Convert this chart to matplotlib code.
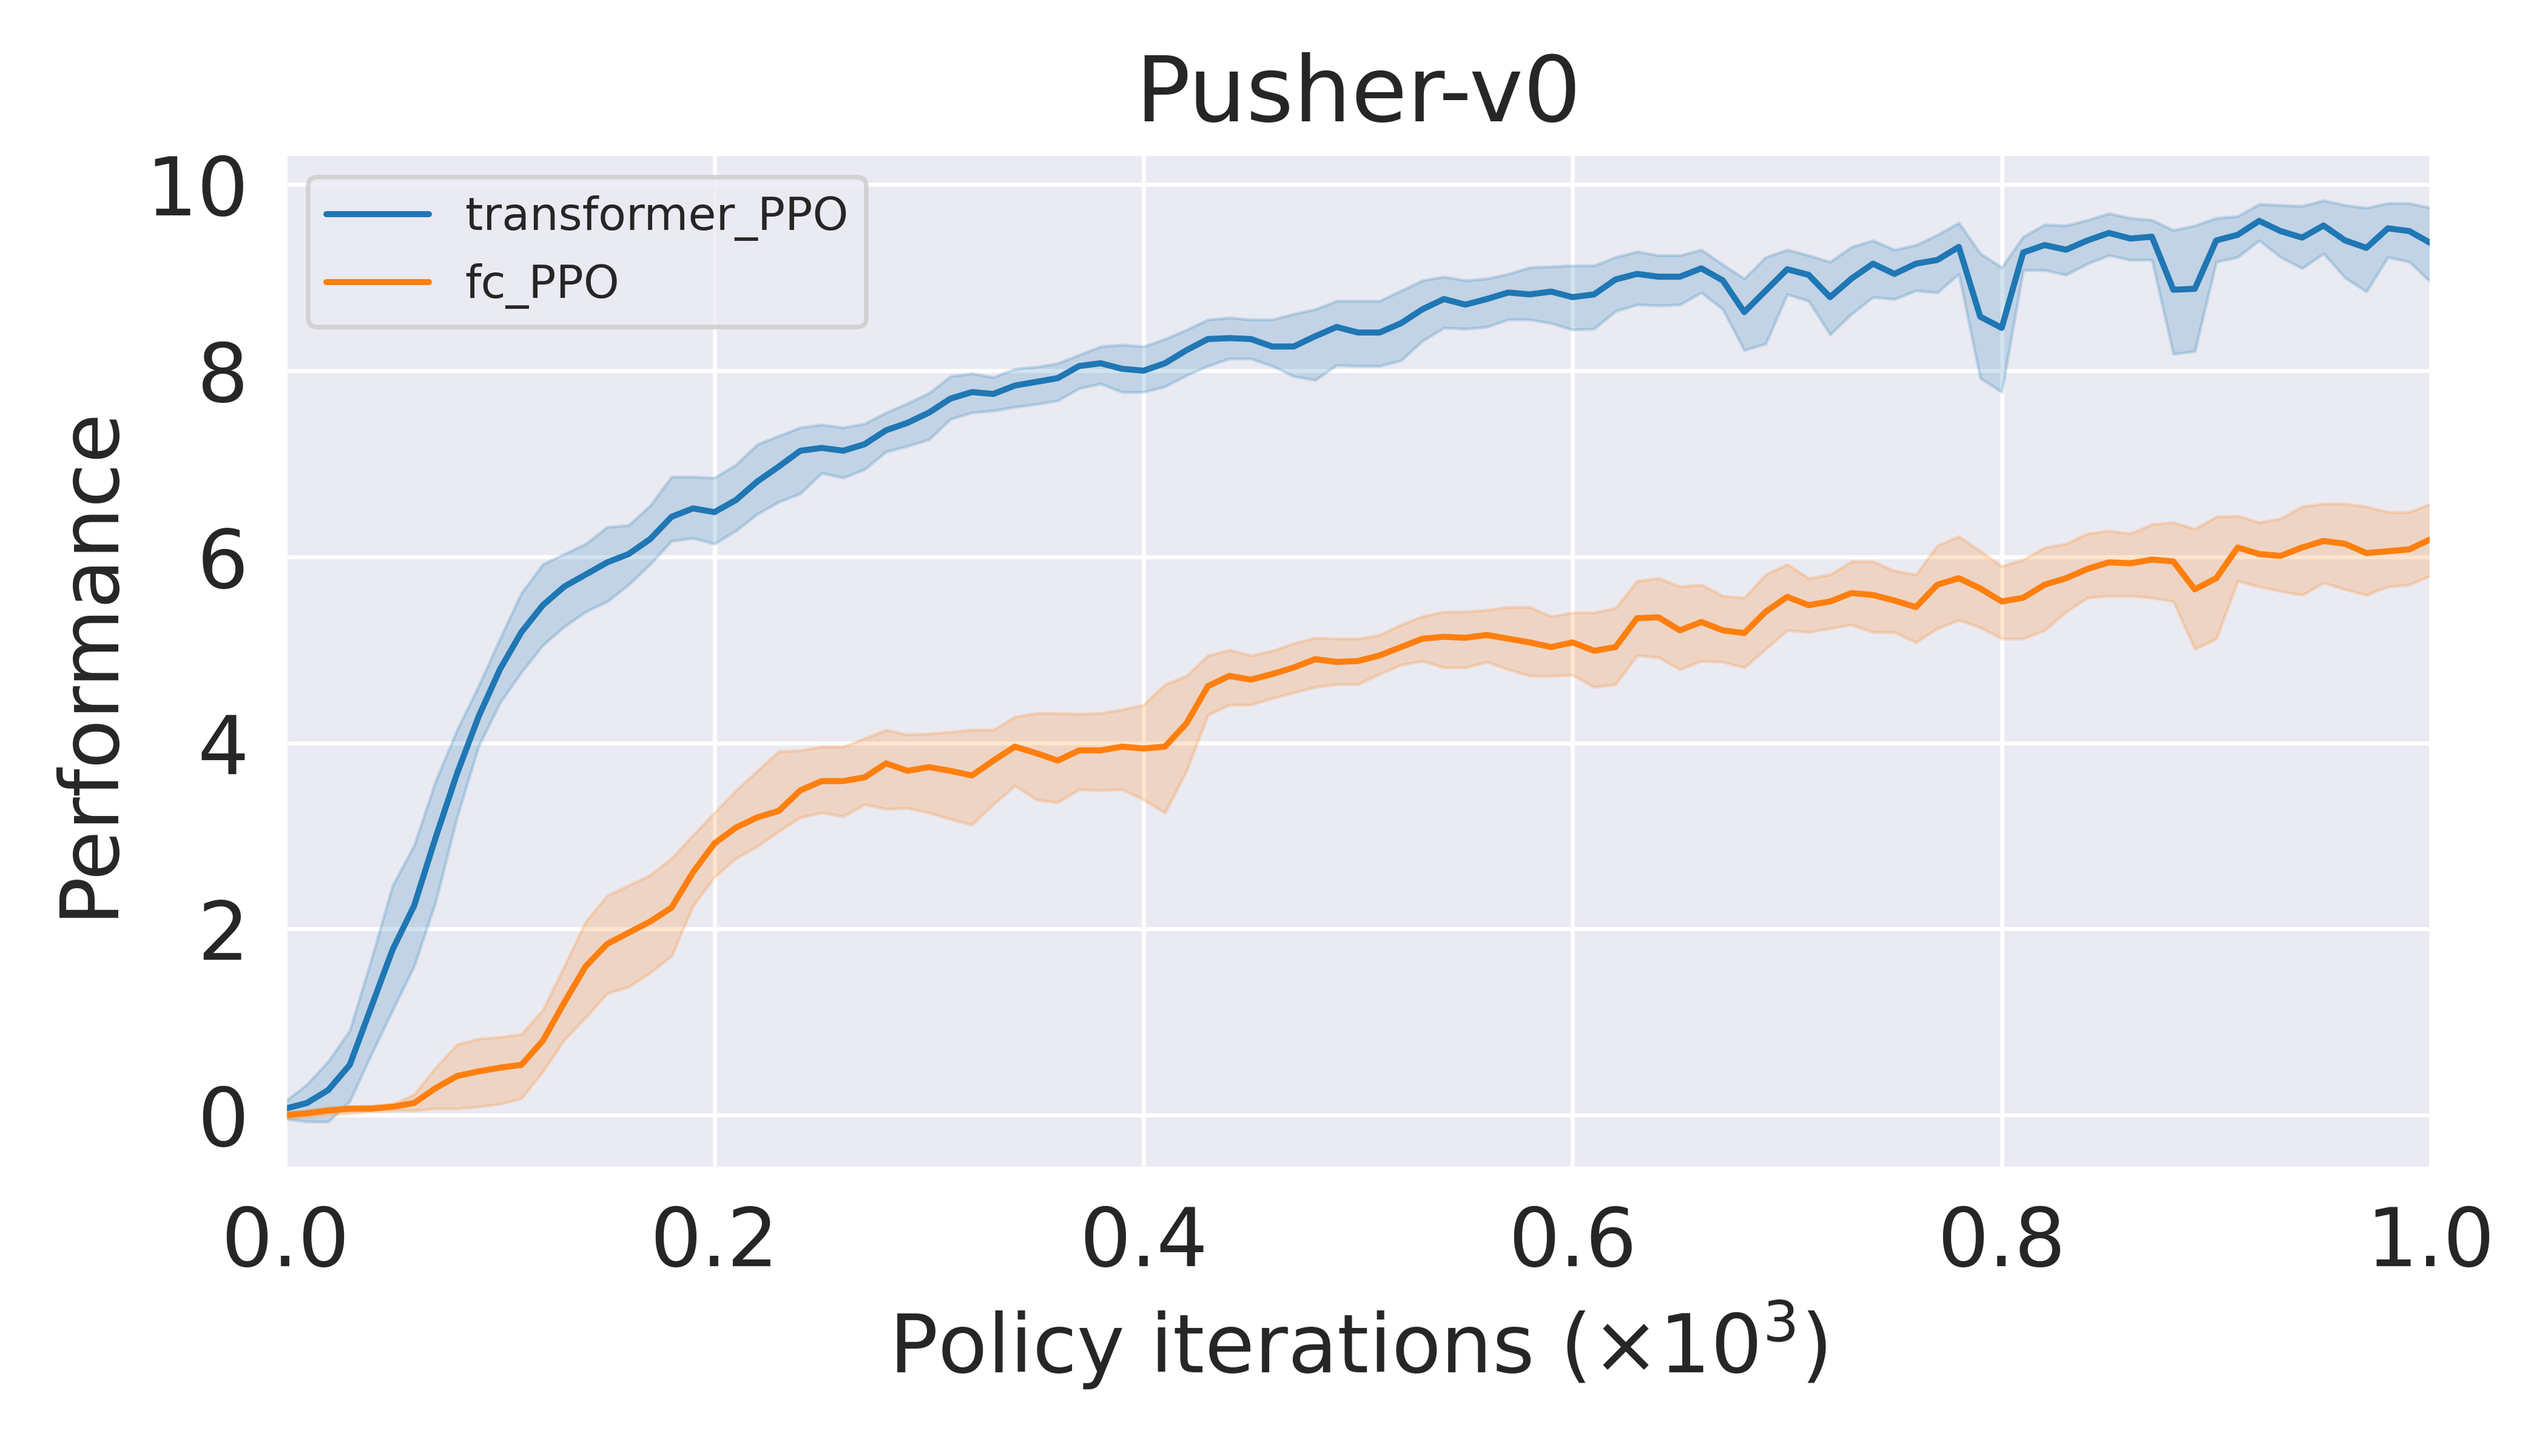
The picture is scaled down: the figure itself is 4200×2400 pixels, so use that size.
import matplotlib
matplotlib.use("Agg")
import matplotlib.pyplot as plt
import numpy as np
import seaborn as sns

# policy iterations (x10^3), one point every 10 iterations
iterations = np.arange(101) / 100.0

transformer_mean = [
    0.07, 0.13, 0.27, 0.54, 1.16, 1.78, 2.25, 2.98, 3.67, 4.28, 4.79, 5.19, 5.48,
    5.68, 5.81, 5.94, 6.03, 6.19, 6.43, 6.52, 6.48, 6.61, 6.81, 6.97, 7.14, 7.17,
    7.14, 7.21, 7.36, 7.44, 7.55, 7.70, 7.77, 7.75, 7.84, 7.88, 7.92, 8.05, 8.08,
    8.02, 8.00, 8.08, 8.22, 8.34, 8.35, 8.34, 8.26, 8.26, 8.37, 8.47,
    8.41, 8.41, 8.51, 8.66, 8.77, 8.71, 8.77, 8.84, 8.82, 8.85, 8.79, 8.82, 8.98,
    9.04, 9.01, 9.01, 9.10, 8.97, 8.63, 8.86, 9.09, 9.03, 8.79, 8.99, 9.15,
    9.04, 9.15, 9.19, 9.33, 8.58, 8.46, 9.27, 9.35, 9.30, 9.40, 9.48, 9.42, 9.44,
    8.87, 8.88, 9.40, 9.46, 9.61, 9.50, 9.43, 9.56, 9.40, 9.32, 9.53, 9.50, 9.37,
]
transformer_upper = [
    0.15, 0.33, 0.58, 0.91, 1.67, 2.47, 2.90, 3.59, 4.14, 4.61, 5.12, 5.61, 5.92,
    6.03, 6.14, 6.32, 6.34, 6.55, 6.86, 6.86, 6.85, 6.99, 7.21, 7.30, 7.39, 7.42,
    7.39, 7.43, 7.55, 7.65, 7.76, 7.94, 7.97, 7.93, 8.02, 8.04, 8.08, 8.17, 8.26,
    8.28, 8.26, 8.34, 8.44, 8.55, 8.57, 8.55, 8.55, 8.61, 8.66, 8.75,
    8.75, 8.75, 8.86, 8.97, 9.01, 8.97, 8.99, 9.04, 9.11, 9.12, 9.13, 9.13, 9.22,
    9.28, 9.24, 9.24, 9.30, 9.14, 8.99, 9.22, 9.30, 9.24, 9.17, 9.33, 9.40,
    9.30, 9.35, 9.46, 9.59, 9.26, 9.11, 9.44, 9.57, 9.56, 9.62, 9.69, 9.64, 9.62,
    9.51, 9.56, 9.64, 9.66, 9.79, 9.78, 9.77, 9.83, 9.78, 9.75, 9.80, 9.80, 9.75,
]
transformer_lower = [
    -0.04, -0.07, -0.07, 0.15, 0.65, 1.13, 1.60, 2.29, 3.20, 3.96, 4.43, 4.76, 5.05,
    5.25, 5.41, 5.52, 5.70, 5.92, 6.17, 6.20, 6.14, 6.28, 6.46, 6.59, 6.68, 6.90,
    6.85, 6.94, 7.13, 7.19, 7.26, 7.48, 7.55, 7.57, 7.61, 7.64, 7.68, 7.81, 7.86,
    7.77, 7.77, 7.83, 7.95, 8.05, 8.13, 8.13, 8.05, 7.94, 7.90, 8.06,
    8.05, 8.05, 8.11, 8.32, 8.46, 8.45, 8.47, 8.55, 8.55, 8.51, 8.44, 8.45, 8.64,
    8.71, 8.70, 8.71, 8.84, 8.66, 8.22, 8.29, 8.82, 8.75, 8.39, 8.61, 8.79,
    8.77, 8.86, 8.84, 9.04, 7.92, 7.77, 9.08, 9.08, 9.03, 9.15, 9.24, 9.19, 9.19,
    8.18, 8.21, 9.17, 9.22, 9.40, 9.22, 9.10, 9.26, 9.00, 8.85, 9.22, 9.17, 8.95,
]

fc_mean = [
    0.00, 0.02, 0.05, 0.07, 0.07, 0.09, 0.13, 0.29, 0.42, 0.47, 0.51, 0.54, 0.80,
    1.21, 1.60, 1.84, 1.96, 2.08, 2.23, 2.61, 2.92, 3.09, 3.20, 3.27, 3.49, 3.59,
    3.59, 3.63, 3.78, 3.70, 3.74, 3.70, 3.65, 3.81, 3.96, 3.89, 3.81, 3.92, 3.92,
    3.96, 3.94, 3.96, 4.21, 4.61, 4.72, 4.68, 4.74, 4.81, 4.90, 4.87,
    4.88, 4.94, 5.03, 5.12, 5.14, 5.13, 5.16, 5.12, 5.08, 5.03, 5.08, 4.99, 5.03,
    5.34, 5.35, 5.21, 5.30, 5.21, 5.18, 5.41, 5.57, 5.48, 5.52, 5.61, 5.59,
    5.53, 5.46, 5.70, 5.77, 5.66, 5.52, 5.56, 5.70, 5.77, 5.87, 5.94, 5.93, 5.97,
    5.95, 5.65, 5.77, 6.10, 6.03, 6.01, 6.10, 6.17, 6.14, 6.04, 6.06, 6.08, 6.19,
]
fc_upper = [
    0.03, 0.05, 0.08, 0.09, 0.10, 0.12, 0.22, 0.51, 0.76, 0.82, 0.84, 0.87, 1.13,
    1.60, 2.08, 2.36, 2.47, 2.58, 2.76, 3.01, 3.25, 3.49, 3.70, 3.91, 3.92, 3.96,
    3.96, 4.05, 4.14, 4.09, 4.10, 4.12, 4.14, 4.14, 4.28, 4.32, 4.32, 4.31, 4.32,
    4.36, 4.41, 4.63, 4.72, 4.94, 5.00, 4.94, 4.99, 5.07, 5.13, 5.12,
    5.12, 5.16, 5.27, 5.36, 5.41, 5.41, 5.43, 5.46, 5.46, 5.36, 5.40, 5.40, 5.45,
    5.74, 5.77, 5.68, 5.70, 5.58, 5.56, 5.81, 5.92, 5.77, 5.81, 5.95, 5.95,
    5.85, 5.81, 6.12, 6.22, 6.06, 5.90, 5.97, 6.10, 6.14, 6.25, 6.28, 6.25, 6.35,
    6.37, 6.30, 6.43, 6.44, 6.37, 6.41, 6.54, 6.57, 6.57, 6.54, 6.48, 6.48, 6.57,
]
fc_lower = [
    -0.03, -0.02, 0.00, 0.02, 0.04, 0.05, 0.05, 0.07, 0.07, 0.09, 0.12, 0.18, 0.47,
    0.81, 1.05, 1.31, 1.38, 1.53, 1.71, 2.25, 2.56, 2.76, 2.89, 3.05, 3.20, 3.25,
    3.21, 3.34, 3.29, 3.30, 3.25, 3.18, 3.12, 3.34, 3.54, 3.39, 3.36, 3.50, 3.49,
    3.50, 3.39, 3.25, 3.70, 4.30, 4.41, 4.41, 4.48, 4.54, 4.60, 4.63,
    4.63, 4.74, 4.84, 4.88, 4.81, 4.81, 4.87, 4.79, 4.72, 4.72, 4.73, 4.60, 4.63,
    4.94, 4.92, 4.79, 4.88, 4.87, 4.81, 5.01, 5.21, 5.19, 5.23, 5.27, 5.19,
    5.19, 5.08, 5.23, 5.32, 5.24, 5.12, 5.12, 5.21, 5.41, 5.56, 5.58, 5.58, 5.56,
    5.52, 5.01, 5.12, 5.74, 5.68, 5.63, 5.59, 5.72, 5.65, 5.59, 5.68, 5.70, 5.80,
]

x_ticks = [0.0, 0.2, 0.4, 0.6, 0.8, 1.0]
y_ticks = [0, 2, 4, 6, 8, 10]

sns.set_theme(style="darkgrid")
plt.rcParams["grid.linewidth"] = 1.6
plt.rcParams["patch.linewidth"] = 1.2
plt.rcParams["legend.edgecolor"] = "0.8"

fig, ax = plt.subplots(figsize=(14, 8), dpi=300)
fig.subplots_adjust(left=0.112, right=0.954, top=0.894, bottom=0.198)

ax.plot(iterations, transformer_mean, color="#1f77b4", linewidth=2.4, label="transformer_PPO")
ax.fill_between(iterations, transformer_lower, transformer_upper, color="#1f77b4", alpha=0.2)
ax.plot(iterations, fc_mean, color="#ff7f0e", linewidth=2.4, label="fc_PPO")
ax.fill_between(iterations, fc_lower, fc_upper, color="#ff7f0e", alpha=0.2)

ax.set_xlim(0, 1.0)
ax.set_xticks(x_ticks)
ax.set_yticks(y_ticks)
ax.tick_params(labelsize=32, pad=8.5)
ax.set_xlabel(r"Policy iterations ($\times 10^3$)", fontsize=32, labelpad=6)
ax.set_ylabel("Performance", fontsize=32, labelpad=7)
ax.set_title("Pusher-v0", fontsize=36, pad=13)
legend = ax.legend(loc="upper left", fontsize=18, handlelength=2.25)
legend.get_frame().set_linewidth(1.8)

fig.savefig("out.png", dpi=300)
